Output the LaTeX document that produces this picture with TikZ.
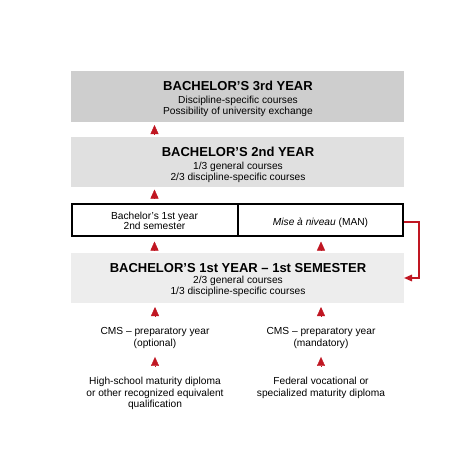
\documentclass[tikz,border=0pt]{standalone}
\usepackage{fontspec}
\setmainfont{Liberation Sans}
\usetikzlibrary{arrows.meta}
\definecolor{epred}{RGB}{192,22,34}
\definecolor{gthree}{RGB}{206,206,206}
\definecolor{gtwo}{RGB}{224,224,224}
\definecolor{gone}{RGB}{237,237,237}
\begin{document}
\begin{tikzpicture}[x=1pt,y=-1pt,
  box/.style={minimum width=333pt, minimum height=#1, inner sep=0pt, outer sep=0pt, draw=none},
  cell/.style={draw=black, line width=1.8pt, inner sep=0pt, minimum height=32pt},
  ttl/.style={anchor=base, inner sep=0pt, font=\fontsize{13}{15}\selectfont\bfseries},
  txt/.style={anchor=base, inner sep=0pt, font=\fontsize{10.2}{11.7}\selectfont},
  blk/.style={anchor=north, inner sep=0pt, align=center, font=\fontsize{10.2}{11.7}\selectfont},
  uparr/.style={epred, line width=0.4pt, -{Triangle[width=8pt,length=9pt]}},
  elbow/.style={epred, line width=1.5pt, -{Triangle[width=6.5pt,length=8pt]}}
]
\fill[white] (0,0) rectangle (474,474);
\useasboundingbox (0,0) rectangle (474,474);

\coordinate (colL) at (154.5,0);
\coordinate (colR) at (321,0);

% boxes
\node[box=51pt, fill=gthree] (b3) at (237.5,96.5) {};
\node[box=50pt, fill=gtwo] (b2) at (237.5,162) {};
\node[cell, minimum width=166pt] (rowL) at (155,220) {};
\node[cell, minimum width=165pt] (rowR) at (320.5,220) {};
\node[box=50pt, fill=gone] (b1) at (237.5,278) {};

% texts in boxes
\node[ttl] (t3a) at (238,90.3) {BACHELOR’S 3rd YEAR};
\node[txt] (t3b) at (238,103) {Discipline-specific courses};
\node[txt] (t3c) at (238,114.7) {Possibility of university exchange};

\node[ttl] (t2a) at (238,156.6) {BACHELOR’S 2nd YEAR};
\node[txt] (t2b) at (238,169) {1/3 general courses};
\node[txt] (t2c) at (238,180.3) {2/3 discipline-specific courses};

\node[txt] (r1a) at (154.5,219) {Bachelor’s 1st year};
\node[txt] (r1b) at (154.5,229.8) {2nd semester};
\node[txt] (rm) at (320.5,225.3) {\textit{Mise à niveau} (MAN)};

\node[ttl] (t1a) at (238,272) {BACHELOR’S 1st YEAR – 1st SEMESTER};
\node[txt] (t1b) at (238,283) {2/3 general courses};
\node[txt] (t1c) at (238,294.2) {1/3 discipline-specific courses};

% bottom blocks
\node[blk] (cmsL) at (155,327) {CMS – preparatory year\\(optional)};
\node[blk] (cmsR) at (321,327) {CMS – preparatory year\\(mandatory)};
\node[blk] (dipL) at (155,377) {High-school maturity diploma\\or other recognized equivalent\\qualification};
\node[blk] (dipR) at (321,377) {Federal vocational or\\specialized maturity diploma};

% up arrows
\draw[uparr, shorten <=3pt, shorten >=3pt] (b2.north -| colL) -- (b3.south -| colL);
\draw[uparr, shorten <=4.6pt, shorten >=2.5pt] (rowL.north -| colL) -- (b2.south -| colL);
\draw[uparr, shorten <=2.5pt, shorten >=4.6pt] (b1.north -| colL) -- (rowL.south -| colL);
\draw[uparr, shorten <=2.5pt, shorten >=4.6pt] (b1.north -| colR) -- (rowR.south -| colR);
\draw[uparr, shorten <=11pt, shorten >=4pt] (cmsL.north) -- (b1.south -| cmsL.north);
\draw[uparr, shorten <=11pt, shorten >=4pt] (cmsR.north) -- (b1.south -| cmsR.north);
\draw[uparr, shorten <=11pt, shorten >=8.6pt] (dipL.north) -- (cmsL.south);
\draw[uparr, shorten <=11pt, shorten >=8.6pt] (dipR.north) -- (cmsR.south);

% elbow connector
\draw[elbow] ([yshift=-2pt]rowR.east) -- ++(15,0) |- (b1.east);
\end{tikzpicture}
\end{document}
